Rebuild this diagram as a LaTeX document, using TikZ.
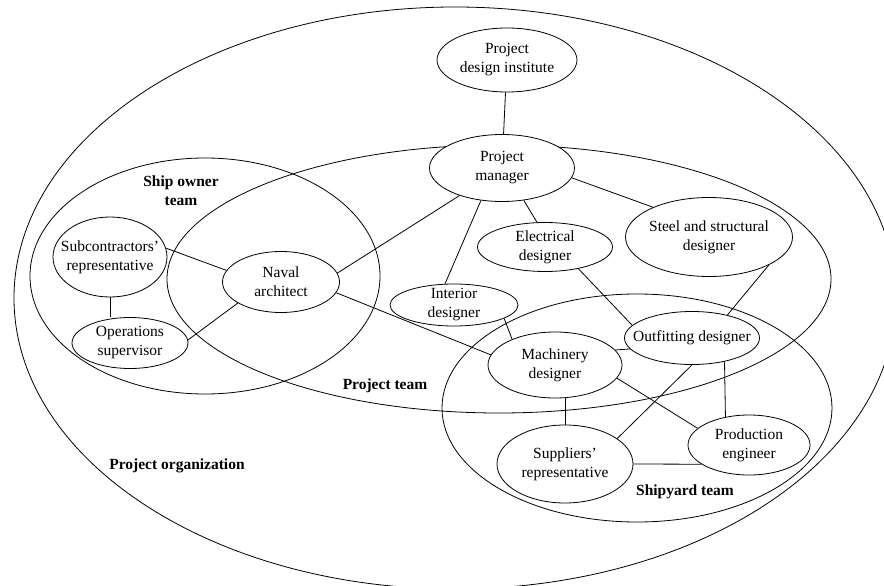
\documentclass[tikz,border=0pt]{standalone}
\usepackage{fontspec}
\setmainfont{Liberation Serif}
\usepackage{tikz}
\usetikzlibrary{shapes.geometric}

\begin{document}
\begin{tikzpicture}[x=1pt, y=-1pt, line width=0.8pt,
    font=\fontsize{15.5}{19}\selectfont,
    member/.style={ellipse, draw, fill=white, align=center, inner xsep=-12pt, inner ysep=-3pt},
    team/.style={font=\fontsize{15.5}{19}\selectfont\bfseries, align=center}]

   \useasboundingbox (0,0) rectangle (884,586);
   \clip (0,0) rectangle (884,586);

   % groups
   \draw (455,298) ellipse [x radius=441, y radius=291];
   \draw (499,279) ellipse [x radius=332, y radius=134];
   \draw (205,276) ellipse [x radius=175, y radius=118];
   \draw (637,408) ellipse [x radius=195, y radius=114];

   \node[team] (shipowner) at (181,191) {Ship owner\\team};
   \node[team] (projteam) at (385,386) {Project team};
   \node[team] (projorg) at (177,466) {Project organization};
   \node[team] (shipyard) at (685,492) {Shipyard team};

   % members
   \node[member, minimum width=140, minimum height=64] (pdi) at (507,60) {Project\\design institute};
   \node[member, minimum width=145, minimum height=67] (pm) at (502,168) {Project\\manager};
   \node[member, minimum width=135, minimum height=49] (elec) at (545,247) {Electrical\\designer};
   \node[member, minimum width=167, minimum height=79] (steel) at (709,237) {Steel and structural\\designer};
   \node[member, minimum width=128, minimum height=42] (interior) at (454,305) {Interior\\designer};
   \node[member, minimum width=117, minimum height=61] (naval) at (281,282) {Naval\\architect};
   \node[member, minimum width=114, minimum height=80] (subcon) at (110,257) {Subcontractors'\\representative};
   \node[member, minimum width=116, minimum height=51] (ops) at (130,343) {Operations\\supervisor};
   \node[member, minimum width=134, minimum height=66] (mach) at (555,365) {Machinery\\designer};
   \node[member, minimum width=135, minimum height=53] (outfit) at (692,338) {Outfitting designer};
   \node[member, minimum width=136, minimum height=78] (supp) at (565,464) {Suppliers'\\representative};
   \node[member, minimum width=122, minimum height=60] (prod) at (749,445) {Production\\engineer};

   % links
   \draw (pdi) -- (pm);
   \draw (pm.-8) -- (steel.152);
   \draw (pm.-56) -- (elec.108);
   \draw (pm.-123) -- (interior.113);
   \draw (pm.-147) -- (naval.9);
   \draw (subcon.9) -- (naval.168);
   \draw (subcon.south) -- (subcon.south |- ops.north);
   \draw (ops.3) -- (naval.-154);
   \draw (naval.-11) -- (mach.171);
   \draw (interior.-15) -- (mach.149);
   \draw (elec.-33) -- (outfit.168);
   \draw (steel.-25) -- (outfit.33);
   \draw (mach.14) -- (outfit.-170);
   \draw (outfit.-36) -- (prod.130);
   \draw (outfit.south) -- (supp.26);
   \draw (mach.-12) -- (prod.162);
   \draw (supp.north) -- (supp.north |- mach.south);
   \draw (supp.east) -- (prod.-158);
\end{tikzpicture}
\end{document}
